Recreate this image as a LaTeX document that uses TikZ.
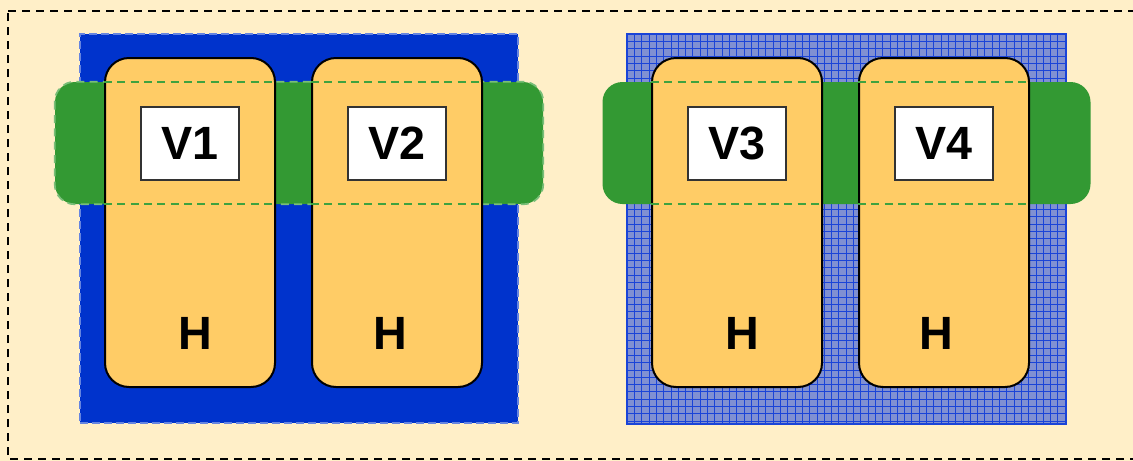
\documentclass[tikz,border=0pt]{standalone}
\usepackage{fontspec}
\setmainfont{Liberation Sans}
\begin{document}
\begin{tikzpicture}[x=0.75pt,y=-0.75pt,
  hostbox/.style={draw=black,line width=1.5pt,fill=hostorange,rounded corners=18pt,minimum width=170*0.75pt,minimum height=329*0.75pt,inner sep=0pt},
  vbox/.style={draw=black!80,line width=1.2pt,fill=white,minimum width=98*0.75pt,minimum height=73*0.75pt,inner sep=0pt,font=\bfseries\fontsize{35}{38}\selectfont},
  hlabel/.style={font=\bfseries\fontsize{35}{38}\selectfont,inner sep=0pt},
  band/.style={fill=bandgreen,rounded corners=15pt,minimum width=488*0.75pt,minimum height=122*0.75pt,inner sep=0pt},
  bandline/.style={draw=bandline,dash pattern=on 6pt off 4pt,line width=1.3pt}
]
\definecolor{bgcream}{HTML}{FFEFC8}
\definecolor{hostorange}{HTML}{FFCC66}
\definecolor{blueA}{HTML}{0033CC}
\definecolor{blueB}{HTML}{8090D2}
\definecolor{gridline}{HTML}{1A44D8}
\definecolor{bandgreen}{HTML}{339933}
\definecolor{bandline}{HTML}{3FA23F}
\useasboundingbox (0,0) rectangle (1133,461);
\fill[bgcream] (0,0) rectangle (1133,461);
\draw[line width=1.5pt,dash pattern=on 6pt off 4.5pt] (8,11) -- (1140,11) -- (1140,459) -- (8,459) -- cycle;
% left blue area
\node[fill=blueA,draw=blueA!60!white,dash pattern=on 6pt off 3pt,line width=1pt,minimum width=438*0.75pt,minimum height=389*0.75pt,inner sep=0pt] (leftzone) at (299,228.5) {};
% right grid area
\node[fill=blueB,minimum width=439*0.75pt,minimum height=390*0.75pt,inner sep=0pt] (rightzone) at (846.5,229) {};
\begin{scope}
\clip (627,34) rectangle (1066,424);
\foreach \i in {0,...,61} {
  \draw[gridline,line width=0.45pt] (627+\i*7.3,34) -- (627+\i*7.3,424);
}
\foreach \j in {0,...,54} {
  \draw[gridline,line width=0.45pt] (627,34+\j*7.3) -- (1066,34+\j*7.3);
}
\end{scope}
\draw[gridline,line width=1.3pt] (rightzone.north west) rectangle (rightzone.south east);
% green bands
\node[band] (bandL) at (299,143) {};
\node[band] (bandR) at (846.5,143) {};
\draw[bandline,draw=bandline!70!white,rounded corners=15pt] (bandL.north west) rectangle (bandL.south east);
% hosts
\node[hostbox] (h1) at (190,222.5) {};
\node[hostbox] (h2) at (397,222.5) {};
\node[hostbox] (h3) at (737,222.5) {};
\node[hostbox] (h4) at (944,222.5) {};
% band dashed edges over hosts
\foreach \h in {h1,h2} {
  \draw[bandline] (\h.west |- bandL.north) -- (\h.east |- bandL.north);
  \draw[bandline] (\h.west |- bandL.south) -- (\h.east |- bandL.south);
}
\foreach \h in {h3,h4} {
  \draw[bandline] (\h.west |- bandR.north) -- (\h.east |- bandR.north);
  \draw[bandline] (\h.west |- bandR.south) -- (\h.east |- bandR.south);
}
% VMs
\node[vbox] (v1) at (190,143.5) {V1};
\node[vbox] (v2) at (397,143.5) {V2};
\node[vbox] (v3) at (737,143.5) {V3};
\node[vbox] (v4) at (944,143.5) {V4};
% H labels
\node[hlabel] (l1) at (195,333) {H};
\node[hlabel] (l2) at (390,333) {H};
\node[hlabel] (l3) at (742,333) {H};
\node[hlabel] (l4) at (936,333) {H};
\end{tikzpicture}
\end{document}
